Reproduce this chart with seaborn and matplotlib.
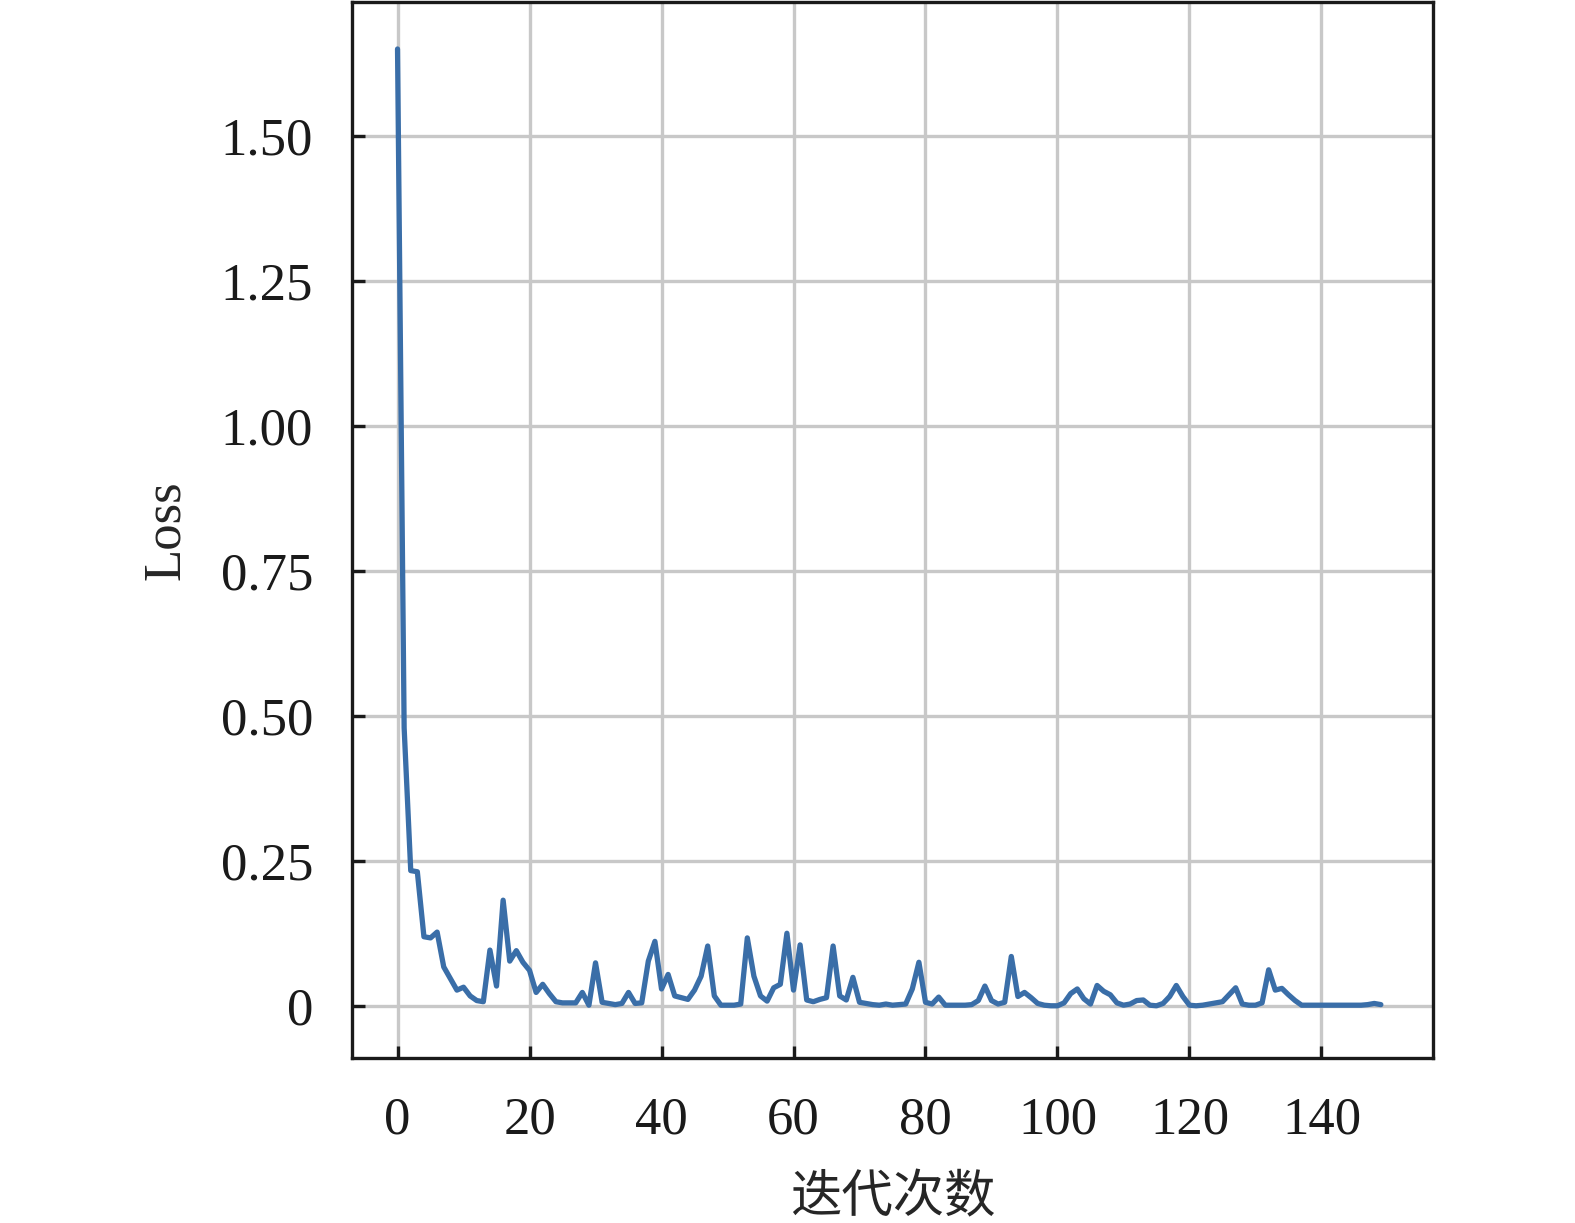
import matplotlib
matplotlib.use("Agg")
import matplotlib.pyplot as plt
import seaborn as sns
import pandas as pd
import numpy as np

iterations = list(range(150))
loss = [
    1.65, 0.48, 0.234, 0.232, 0.12, 0.118, 0.128, 0.068, 0.048, 0.028,
    0.033, 0.018, 0.010, 0.008, 0.097, 0.035, 0.183, 0.078, 0.096, 0.076,
    0.062, 0.024, 0.038, 0.022, 0.008, 0.006, 0.006, 0.006, 0.024, 0.002,
    0.075, 0.007, 0.005, 0.003, 0.005, 0.024, 0.005, 0.006, 0.078, 0.112,
    0.030, 0.055, 0.018, 0.015, 0.012, 0.028, 0.052, 0.104, 0.018, 0.002,
    0.002, 0.002, 0.004, 0.118, 0.052, 0.018, 0.009, 0.032, 0.038, 0.126,
    0.028, 0.106, 0.011, 0.008, 0.012, 0.015, 0.104, 0.018, 0.011, 0.050,
    0.007, 0.005, 0.003, 0.002, 0.004, 0.002, 0.003, 0.004, 0.030, 0.076,
    0.007, 0.004, 0.016, 0.002, 0.002, 0.002, 0.002, 0.003, 0.010, 0.035,
    0.010, 0.004, 0.007, 0.086, 0.017, 0.024, 0.015, 0.005, 0.002, 0.001,
    0.001, 0.006, 0.022, 0.030, 0.013, 0.004, 0.036, 0.026, 0.020, 0.006,
    0.002, 0.004, 0.010, 0.011, 0.002, 0.001, 0.005, 0.017, 0.036, 0.017,
    0.002, 0.001, 0.002, 0.004, 0.006, 0.008, 0.020, 0.032, 0.004, 0.002,
    0.002, 0.006, 0.063, 0.028, 0.031, 0.020, 0.010, 0.002, 0.002, 0.002,
    0.002, 0.002, 0.002, 0.002, 0.002, 0.002, 0.002, 0.003, 0.005, 0.003,
]
yticks = [0, 0.25, 0.50, 0.75, 1.00, 1.25, 1.50]
ytick_labels = ["0", "0.25", "0.50", "0.75", "1.00", "1.25", "1.50"]
xticks = [0, 20, 40, 60, 80, 100, 120, 140]

df = pd.DataFrame({"iteration": iterations, "loss": loss})

sns.set_style("ticks")
plt.rcParams["font.family"] = ["Liberation Serif", "Noto Sans CJK SC", "DejaVu Sans"]

fig = plt.figure(figsize=(15.75, 12.23), dpi=100)
ax = fig.add_axes([352 / 1575, 1 - 1058 / 1223, (1433 - 352) / 1575, (1058 - 2) / 1223])

sns.lineplot(data=df, x="iteration", y="loss", ax=ax, color="#3a6ea8", linewidth=3.8)

ax.set_xlim(-6.9, 156.9)
ax.set_ylim(-0.089, 1.731)
ax.set_xticks(xticks)
ax.set_yticks(yticks)
ax.set_yticklabels(ytick_labels)
ax.grid(True, color="#c8c8c8", linewidth=2.4)
ax.set_axisbelow(True)

for side in ["left", "right", "top", "bottom"]:
    ax.spines[side].set_visible(True)
    ax.spines[side].set_linewidth(2.4)
    ax.spines[side].set_color("#1a1a1a")

ax.tick_params(axis="both", which="major", direction="in", length=9, width=2.4,
               labelsize=38, pad=28, colors="#1a1a1a", top=False, right=False)

ax.set_xlabel("迭代次数", fontsize=37, labelpad=22,
              family=["Liberation Serif", "Noto Sans CJK SC"])
ax.set_ylabel("Loss", fontsize=38, labelpad=22)

fig.savefig("out.png", dpi=100)
